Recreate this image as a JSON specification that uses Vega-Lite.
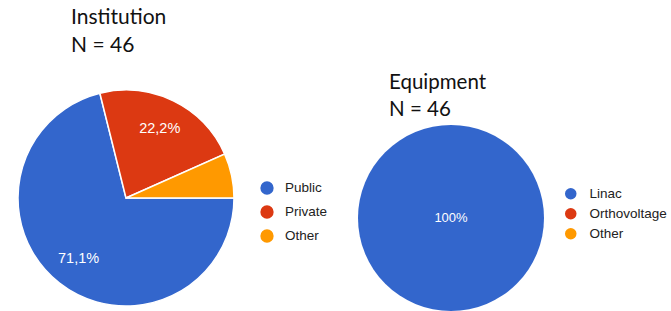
{
  "$schema": "https://vega.github.io/schema/vega-lite/v6.json",
  "padding": {"top": 7, "left": 0, "right": 0, "bottom": 0},
  "autosize": {"type": "pad"},
  "spacing": 20,
  "bounds": "flush",
  "background": "white",
  "config": {
    "view": {"stroke": null},
    "title": {"font": "Lato", "fontSize": 21, "fontWeight": "normal", "color": "#111111", "anchor": "start", "lineHeight": 28},
    "legend": {"labelFont": "Liberation Sans", "labelFontSize": 13.5, "labelColor": "#222222", "symbolType": "circle", "symbolStrokeWidth": 0, "padding": 0}
  },
  "resolve": {"scale": {"color": "independent", "theta": "independent"}, "legend": {"color": "independent"}},
  "hconcat": [
    {
      "width": 252,
      "height": 272,
      "title": {"text": ["Institution", "N = 46"], "dx": 71, "offset": 6},
      "data": {"values": [
        {"cat": "Public", "n": 32, "label": "71,1%"},
        {"cat": "Private", "n": 10, "label": "22,2%"},
        {"cat": "Other", "n": 3, "label": ""}
      ]},
      "encoding": {
        "theta": {"field": "n", "type": "quantitative", "stack": true, "scale": {"range": [1.5708, 7.854]}},
        "order": {"field": "n", "sort": "descending"}
      },
      "layer": [
        {
          "mark": {"type": "arc", "outerRadius": 108, "stroke": "white", "strokeWidth": 1.5},
          "encoding": {
            "color": {"field": "cat", "type": "nominal",
              "scale": {"domain": ["Public", "Private", "Other"], "range": ["#3366cc", "#dc3912", "#ff9900"]},
              "legend": {"title": null, "orient": "none", "legendX": 260, "legendY": 119, "symbolSize": 177, "rowPadding": 10, "labelOffset": 11}}
          }
        },
        {
          "mark": {"type": "text", "radius": 77, "font": "Liberation Sans", "fontSize": 14.5},
          "encoding": {
            "text": {"field": "label"},
            "detail": {"field": "cat"},
            "color": {"value": "white"}
          }
        }
      ]
    },
    {
      "width": 358,
      "height": 312,
      "title": {"text": ["Equipment", "N = 46"], "dx": 117, "offset": -58, "fontSize": 20.5, "lineHeight": 27},
      "data": {"values": [
        {"cat": "Linac", "n": 46, "label": "100%"},
        {"cat": "Orthovoltage", "n": 0, "label": ""},
        {"cat": "Other", "n": 0, "label": ""}
      ]},
      "encoding": {
        "theta": {"field": "n", "type": "quantitative", "stack": true},
        "order": {"field": "n", "sort": "descending"}
      },
      "layer": [
        {
          "mark": {"type": "arc", "outerRadius": 93, "strokeWidth": 0},
          "encoding": {
            "color": {"field": "cat", "type": "nominal",
              "scale": {"domain": ["Linac", "Orthovoltage", "Other"], "range": ["#3366cc", "#dc3912", "#ff9900"]},
              "legend": {"title": null, "orient": "none", "legendX": 292, "legendY": 125, "symbolSize": 133, "rowPadding": 5, "labelOffset": 12}}
          }
        },
        {
          "mark": {"type": "text", "radius": 0, "font": "Liberation Sans", "fontSize": 13},
          "encoding": {
            "text": {"field": "label"},
            "detail": {"field": "cat"},
            "color": {"value": "white"}
          }
        }
      ]
    }
  ]
}
